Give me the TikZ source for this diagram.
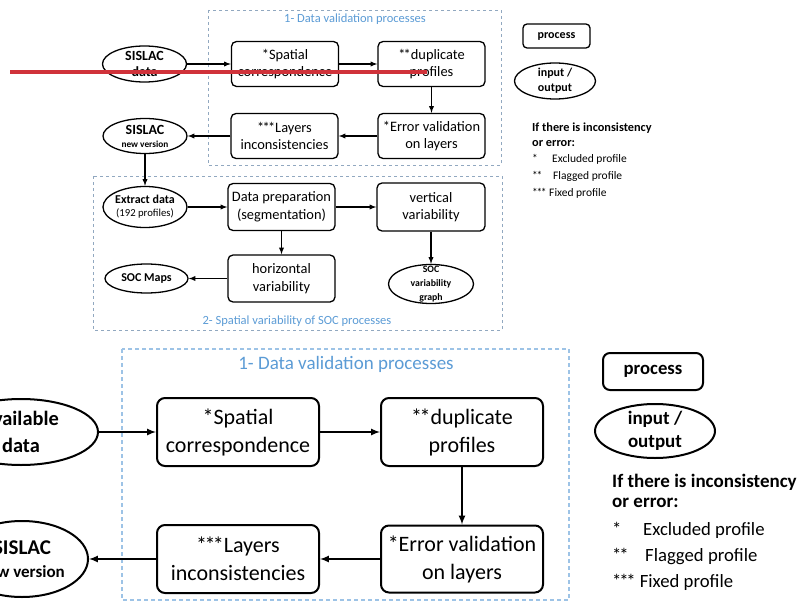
\documentclass[tikz,border=0pt]{standalone}
\usepackage{fontspec}
\setmainfont{Carlito}
\usepackage{xcolor}
\usetikzlibrary{arrows,positioning,shapes.geometric}
\definecolor{TitleBlue}{RGB}{91,155,213}
\definecolor{FrameGray}{RGB}{145,168,192}
\definecolor{FrameBlue}{RGB}{157,195,230}
\definecolor{LineRed}{RGB}{208,50,58}
\newcommand{\FontPx}[2]{\fontsize{#1pt}{#2pt}\selectfont}
\newcommand{\StarKern}{\kern-.12em}

\begin{document}
\begin{tikzpicture}[x=1pt, y=-1pt, >=latex,
	SmallBox/.style={draw, rounded corners=5pt, line width=1.3pt, align=center, inner sep=0pt, minimum width=107pt, minimum height=45pt, font=\FontPx{14.4}{17.5}},
	SmallIO/.style={draw, ellipse, line width=1.3pt, inner sep=0pt, minimum width=84pt, minimum height=36pt},
	SmallLabel/.style={align=center, inner sep=0pt, font=\bfseries\FontPx{14}{16}},
	BigBox/.style={draw, rounded corners=8pt, line width=2pt, align=center, inner sep=0pt, minimum width=162pt, minimum height=68pt, font=\FontPx{22}{28}},
	BigIO/.style={draw, ellipse, line width=2pt, inner sep=0pt},
	BigLabel/.style={align=center, inner sep=0pt, font=\bfseries\FontPx{20.4}{27}},
	SmallArrow/.style={->, line width=1.3pt},
	BigArrow/.style={->, line width=2pt},
	FrameTitle/.style={text=TitleBlue, inner sep=0pt},
	LegendText/.style={anchor=west, inner sep=0pt}]
	\path[use as bounding box] (0,0) rectangle (798,602);
	\clip (0,0) rectangle (798,602);
	% small diagram, part 1
	\draw[FrameGray, dashed, line width=0.9pt] (208,10) rectangle (501,165);
	\node[FrameTitle, font=\FontPx{12.5}{15}] (title1) at (355,19) {1- Data validation processes};
	\node[SmallIO, label={[SmallLabel]center:SISLAC\\data}] (data) at (144.5,64) {};
	\node[SmallBox] (spatial) at (285,64) {*Spatial\\correspondence};
	\node[SmallBox] (duplicate) at (431.5,64) {*\StarKern*duplicate\\profiles};
	\node[SmallBox] (error) at (431.5,136) {*Error validation\\on layers};
	\node[SmallBox] (layers) at (284.5,136) {*\StarKern*\StarKern*Layers\\inconsistencies};
	\node[SmallIO, minimum height=35pt, label={[SmallLabel]center:SISLAC\\[-3pt]{\FontPx{9.3}{11}new version}}] (newversion) at (145,136) {};
	\draw[SmallArrow] (data) -- (spatial);
	\draw[SmallArrow] (spatial) -- (duplicate);
	\draw[SmallArrow] (duplicate) -- (error);
	\draw[SmallArrow] (error) -- (layers);
	\draw[SmallArrow] (layers) -- (newversion);
	% small diagram, part 2
	\draw[FrameGray, dashed, line width=0.9pt] (93,176) rectangle (502,330);
	\node[FrameTitle, font=\FontPx{12.5}{15}] (title2) at (297,321) {2- Spatial variability of SOC processes};
	\node[SmallIO, minimum height=41pt, label={[SmallLabel, font=\bfseries\FontPx{12}{13}]center:Extract data\\{\mdseries\FontPx{10.7}{12}(192 profiles)}}] (extract) at (145,207) {};
	\node[SmallBox, minimum height=47pt] (preparation) at (281.5,207) {Data preparation\\(segmentation)};
	\node[SmallBox, minimum width=108pt, minimum height=48pt] (vertical) at (431,207) {vertical\\variability};
	\node[SmallBox, minimum height=47pt] (horizontal) at (281.5,278.5) {horizontal\\variability};
	\node[SmallIO, minimum width=83pt, minimum height=29pt, label={[SmallLabel, font=\bfseries\FontPx{12}{13}]center:SOC Maps}] (maps) at (146.5,278.5) {};
	\node[SmallIO, minimum width=85pt, minimum height=39pt, label={[SmallLabel, font=\bfseries\FontPx{9.8}{14}]center:SOC\\variability\\graph}] (graph) at (431,284) {};
	\draw[SmallArrow] (newversion) -- (extract);
	\draw[SmallArrow] (extract) -- (preparation);
	\draw[SmallArrow] (preparation) -- (vertical);
	\draw[SmallArrow] (preparation) -- (horizontal);
	\draw[SmallArrow] (vertical) -- (graph);
	\draw[SmallArrow] (horizontal) -- (maps);
	% small legend
	\node[draw, rounded corners=4pt, line width=1.3pt, minimum width=67pt, minimum height=24pt, inner sep=0pt, font=\bfseries\FontPx{12}{14}] (process) at (556.5,36) {process};
	\node[SmallIO, minimum width=81pt, label={[SmallLabel, font=\bfseries\FontPx{12}{15}]center:input /\\output}] (io) at (555,81) {};
	\node[LegendText, font=\bfseries\FontPx{12.3}{15}] (cond) at (532,128) {If there is inconsistency};
	\node[LegendText, font=\bfseries\FontPx{12.3}{15}] (orerror) at (532,144) {or error:};
	\node[LegendText, font=\FontPx{11.5}{14}] (excluded) at (532,159) {\makebox[20pt][l]{*}Excluded profile};
	\node[LegendText, font=\FontPx{11.5}{14}] (flagged) at (532,176) {\makebox[21pt][l]{*\StarKern*}Flagged profile};
	\node[LegendText, font=\FontPx{11.5}{14}] (fixed) at (532,193) {*\StarKern*\StarKern* Fixed profile};
	% enlarged copy of part 1
	\draw[FrameBlue, dash pattern=on 4pt off 3pt, line width=1.3pt] (122,349) rectangle (569,600);
	\node[FrameTitle, font=\FontPx{19}{23}] (title3) at (346,364) {1- Data validation processes};
	\node[BigIO, minimum width=154pt, minimum height=66pt, label={[BigLabel]center:available\\data}] (available) at (21,432) {};
	\node[BigBox] (spatial2) at (238,432) {*Spatial\\correspondence};
	\node[BigBox] (duplicate2) at (462,432) {*\StarKern*duplicate\\profiles};
	\node[BigBox, minimum height=67pt] (error2) at (462,559) {*Error validation\\on layers};
	\node[BigBox] (layers2) at (238,559) {*\StarKern*\StarKern*Layers\\inconsistencies};
	\node[BigIO, minimum width=132pt, minimum height=76pt, label={[BigLabel, font=\bfseries\FontPx{21}{23}]center:SISLAC\\{\FontPx{17}{20}new version}}] (newversion2) at (22,559) {};
	\draw[BigArrow] (available) -- (spatial2);
	\draw[BigArrow] (spatial2) -- (duplicate2);
	\draw[BigArrow] (duplicate2) -- (error2);
	\draw[BigArrow] (error2) -- (layers2);
	\draw[BigArrow] (layers2) -- (newversion2);
	% enlarged legend
	\node[draw, rounded corners=7pt, line width=2pt, minimum width=100pt, minimum height=37pt, inner sep=0pt, font=\bfseries\FontPx{18.7}{22}] (process2) at (653,371.5) {process};
	\node[BigIO, minimum width=120pt, minimum height=54pt, label={[BigLabel, font=\bfseries\FontPx{19}{23}]center:input /\\output}] (io2) at (655,431) {};
	\node[LegendText, font=\bfseries\FontPx{19}{23}] (cond2) at (612,482) {If there is inconsistency};
	\node[LegendText, font=\bfseries\FontPx{19}{23}] (orerror2) at (612,503) {or error:};
	\node[LegendText, font=\FontPx{18.7}{22}] (excluded2) at (612,530) {\makebox[31pt][l]{*}Excluded profile};
	\node[LegendText, font=\FontPx{18.7}{22}] (flagged2) at (612,556) {\makebox[33pt][l]{*\StarKern*}Flagged profile};
	\node[LegendText, font=\FontPx{18.7}{22}] (fixed2) at (612,582) {*\StarKern*\StarKern* Fixed profile};
	% red stroke over the small diagram
	\draw[LineRed, line width=3.5pt] (10,72) -- (427,72);
\end{tikzpicture}
\end{document}
